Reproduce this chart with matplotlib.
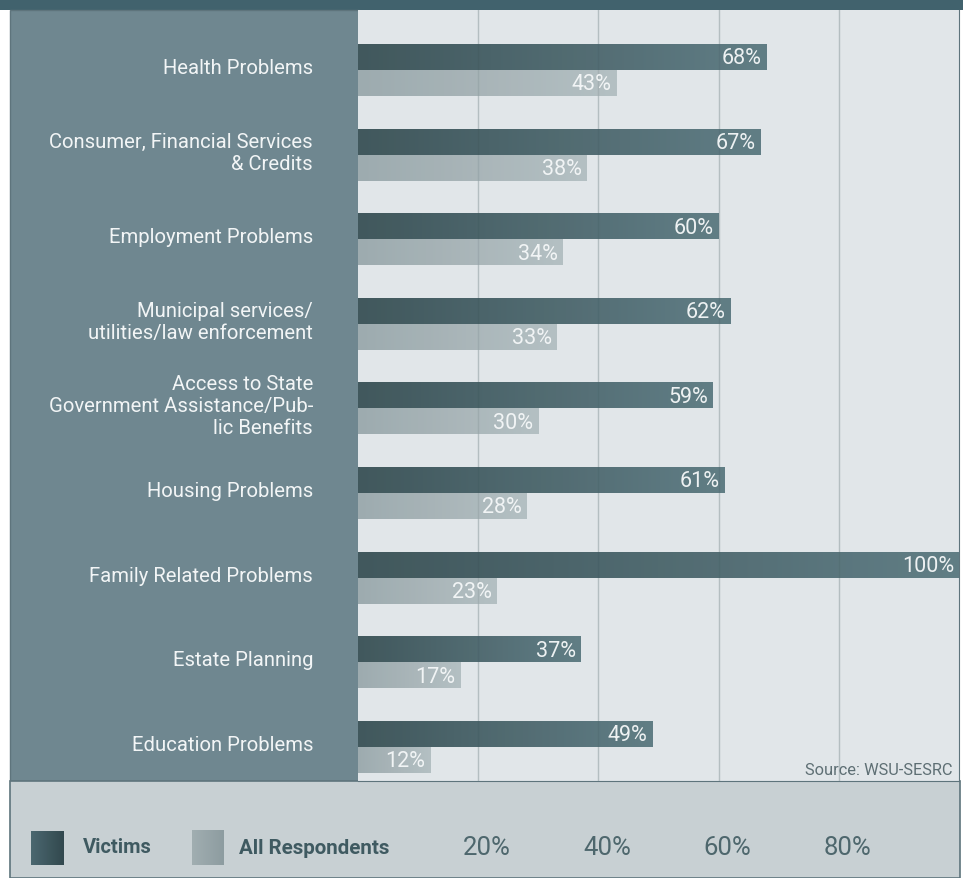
import numpy as np
import matplotlib
matplotlib.use('Agg')
import matplotlib.pyplot as plt
import matplotlib.transforms as mtransforms
from matplotlib.patches import Rectangle
from matplotlib.colors import LinearSegmentedColormap

# data
categories = ['Health Problems',
              'Consumer, Financial Services\n& Credits',
              'Employment Problems',
              'Municipal services/\nutilities/law enforcement',
              'Access to State\nGovernment Assistance/Pub-\nlic Benefits',
              'Housing Problems',
              'Family Related Problems',
              'Estate Planning',
              'Education Problems']
victims = [68, 67, 60, 62, 59, 61, 100, 37, 49]
respondents = [43, 38, 34, 33, 30, 28, 23, 17, 12]
ticks = [20, 40, 60, 80]
tick_labels = ['20%', '40%', '60%', '80%']

plt.rcParams['font.family'] = ['Roboto', 'DejaVu Sans']

W, H = 963, 879
fig = plt.figure(figsize=(W / 100, H / 100), dpi=100)
fig.patch.set_facecolor('white')

def fx(px):
    return px / W

def fy(py):
    return 1 - py / H

# background blocks (kept behind the axes)
fig.patches.append(Rectangle((0, fy(11)), 1, 11 / H, transform=fig.transFigure,
                             facecolor='#41626d', edgecolor='none', zorder=-5))
fig.patches.append(Rectangle((fx(10), fy(782)), fx(349), 771 / H, transform=fig.transFigure,
                             facecolor='#6f8790', edgecolor='#5e747c', lw=1, zorder=-5))
fig.patches.append(Rectangle((fx(10), 0), fx(950), 97 / H, transform=fig.transFigure,
                             facecolor='#c8d0d3', edgecolor='#5e747c', lw=1.2, zorder=-5))

ax = fig.add_axes([fx(358), fy(782), fx(601), 771 / H])
ax.set_facecolor('#e1e6e9')
for s in ax.spines.values():
    s.set_visible(False)
ax.spines['right'].set_visible(True)
ax.spines['right'].set_color('#5e747c')
ax.spines['bottom'].set_visible(True)
ax.spines['bottom'].set_color('#5e747c')

cm_v = LinearSegmentedColormap.from_list('vic', ['#385055', '#5a7880'])
cm_r = LinearSegmentedColormap.from_list('resp', ['#9aa8ac', '#b2bec1'])
grad = np.linspace(0, 1, 256).reshape(1, -1)

n = len(categories)
bh = 0.307
for i in range(n):
    yv = i - bh / 2
    yr = i + bh / 2
    ax.imshow(grad, cmap=cm_v, extent=[0, victims[i], yv + bh / 2, yv - bh / 2],
              aspect='auto', alpha=0.95, zorder=3, interpolation='bilinear')
    ax.imshow(grad, cmap=cm_r, extent=[0, respondents[i], yr + bh / 2, yr - bh / 2],
              aspect='auto', alpha=0.95, zorder=2, interpolation='bilinear')
    ax.text(victims[i] - 0.8, yv + 0.01, f'{victims[i]}%', ha='right', va='center',
            color='#edf1f2', fontsize=15.5, zorder=5)
    ax.text(respondents[i] - 0.8, yr + 0.01, f'{respondents[i]}%', ha='right', va='center',
            color='#f1f4f5', fontsize=15.5, zorder=5)

for t in ticks:
    ax.axvline(t, color='#c3cccf', lw=1.0, zorder=1)
    ax.axvline(t, color='#35494e', lw=1.0, alpha=0.1, zorder=4)

ax.set_xlim(0, 100)
ax.set_ylim(8.404, -0.709)
ax.set_xticks([])
ax.set_yticks([])

# category labels in the left panel, placed on the bar group centres
trans = mtransforms.blended_transform_factory(fig.transFigure, ax.transData)
for i in range(n):
    ax.text(fx(313), i - 0.03, categories[i], ha='right', va='center', color='#f2f5f6',
            fontsize=14.6, linespacing=1.2, transform=trans, clip_on=False)

ax.text(99, 8.27, 'Source: WSU-SESRC', ha='right', va='center', color='#5e6f74',
        fontsize=11.8, zorder=5)

# legend / axis strip at the bottom
lax = fig.add_axes([fx(358), 0, fx(601), 97 / H])
lax.set_xlim(0, 100)
lax.set_ylim(0, 1)
lax.axis('off')
ly = 1 - 66 / 97
for t, lab in zip(ticks, tick_labels):
    lax.text(t + 1.5, ly, lab, ha='center', va='center', color='#4e676d', fontsize=18.5)

sq_v = LinearSegmentedColormap.from_list('sqv', ['#4b6870', '#32484e'])
sq_r = LinearSegmentedColormap.from_list('sqr', ['#a1aeb1', '#8d9ca0'])
sax1 = fig.add_axes([fx(31), fy(866), fx(32), 34 / H])
sax1.imshow(grad, cmap=sq_v, aspect='auto')
sax1.axis('off')
sax2 = fig.add_axes([fx(192), fy(866), fx(32), 35 / H])
sax2.imshow(grad, cmap=sq_r, aspect='auto')
sax2.axis('off')
fig.text(fx(83), fy(848), 'Victims', ha='left', va='center', color='#3f5a61',
         fontsize=14.5, fontweight='bold')
fig.text(fx(239), fy(849), 'All Respondents', ha='left', va='center', color='#3f5a61',
         fontsize=14.8, fontweight='bold')

fig.savefig('out.png', dpi=100, facecolor=fig.get_facecolor())
